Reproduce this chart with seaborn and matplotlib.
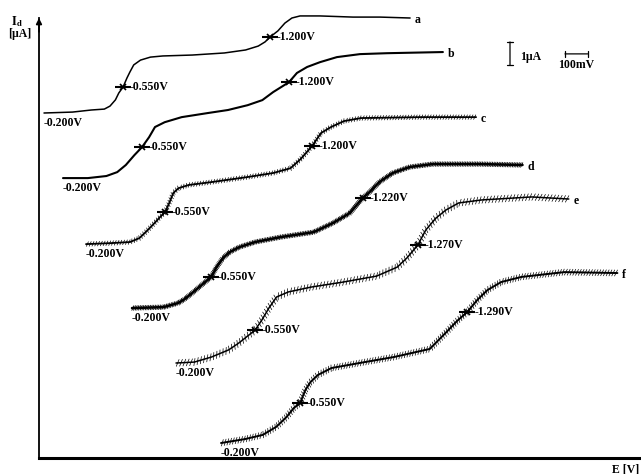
import numpy as np
import pandas as pd
import matplotlib
matplotlib.use("Agg")
import matplotlib.pyplot as plt
from matplotlib import patheffects as pe
import seaborn as sns

# Polarograms a-f: potential E (V) and diffusion current I (uA, from the baseline)
curves = ["a", "b", "c", "d", "e", "f"]

E_a = [-0.200, -0.326, -0.409, -0.467, -0.492, -0.516, -0.531, -0.550, -0.567, -0.580,
       -0.597, -0.627, -0.671, -0.726, -0.856, -0.998, -1.092, -1.148, -1.178, -1.200,
       -1.235, -1.266, -1.297, -1.333, -1.421, -1.567, -1.687, -1.820]
I_a = [0.00, 0.04, 0.13, 0.17, 0.30, 0.57, 0.87, 1.13, 1.52, 1.78,
       2.09, 2.30, 2.43, 2.48, 2.52, 2.61, 2.74, 2.91, 3.09, 3.30,
       3.57, 3.91, 4.13, 4.22, 4.22, 4.17, 4.17, 4.13]

E_b = [-0.200, -0.310, -0.392, -0.440, -0.478, -0.516, -0.550, -0.581, -0.607, -0.650,
       -0.725, -0.842, -0.930, -1.017, -1.082, -1.130, -1.200, -1.235, -1.280, -1.337,
       -1.412, -1.514, -1.634, -1.881]
I_b = [0.00, 0.00, 0.09, 0.26, 0.57, 1.00, 1.35, 1.78, 2.22, 2.43,
       2.65, 2.83, 2.96, 3.17, 3.39, 3.74, 4.17, 4.57, 4.83, 5.04,
       5.26, 5.39, 5.43, 5.48]

E_c = [-0.200, -0.305, -0.395, -0.436, -0.464, -0.495, -0.527, -0.550, -0.568, -0.586,
       -0.609, -0.654, -0.758, -0.911, -1.028, -1.105, -1.150, -1.200, -1.240, -1.284,
       -1.342, -1.417, -1.682, -1.926]
I_c = [0.00, 0.04, 0.09, 0.26, 0.52, 0.83, 1.17, 1.39, 1.78, 2.22,
       2.43, 2.57, 2.70, 2.91, 3.09, 3.30, 3.70, 4.26, 4.83, 5.09,
       5.35, 5.48, 5.52, 5.52]

E_d = [-0.200, -0.340, -0.405, -0.433, -0.466, -0.503, -0.550, -0.572, -0.602, -0.632,
       -0.675, -0.745, -0.861, -1.004, -1.090, -1.164, -1.220, -1.251, -1.295, -1.353,
       -1.428, -1.530, -1.738, -1.928]
I_d = [0.00, 0.04, 0.22, 0.39, 0.65, 0.96, 1.35, 1.74, 2.17, 2.43,
       2.65, 2.87, 3.09, 3.30, 3.70, 4.13, 4.78, 5.04, 5.48, 5.87,
       6.13, 6.26, 6.26, 6.22]

E_e = [-0.200, -0.281, -0.357, -0.433, -0.478, -0.523, -0.550, -0.580, -0.611, -0.645,
       -0.697, -0.797, -0.940, -1.088, -1.179, -1.222, -1.270, -1.305, -1.350, -1.394,
       -1.451, -1.553, -1.774, -1.938]
I_e = [0.00, 0.04, 0.26, 0.57, 0.87, 1.22, 1.43, 1.87, 2.39, 2.87,
       3.09, 3.30, 3.52, 3.78, 4.17, 4.57, 5.13, 5.78, 6.30, 6.65,
       6.96, 7.09, 7.22, 7.13]

E_f = [-0.200, -0.306, -0.384, -0.444, -0.490, -0.522, -0.550, -0.573, -0.596, -0.629,
       -0.689, -0.814, -0.966, -1.124, -1.198, -1.244, -1.290, -1.334, -1.379, -1.440,
       -1.529, -1.719, -1.954]
I_f = [0.00, 0.17, 0.35, 0.70, 1.13, 1.52, 1.74, 2.30, 2.65, 2.96,
       3.26, 3.48, 3.74, 4.09, 4.83, 5.30, 5.70, 6.22, 6.65, 7.00,
       7.22, 7.43, 7.39]

E_start = -0.200
E_half1 = [-0.550, -0.550, -0.550, -0.550, -0.550, -0.550]
E_half2 = [-1.200, -1.200, -1.200, -1.220, -1.270, -1.290]

# stacking of the traces (V to the right, uA upwards)
x_shift = [0.0221, 0.1062, 0.2080, 0.4115, 0.6062, 0.8053]
y_shift = [15.00, 12.17, 9.30, 6.52, 4.13, 0.652]
line_w = {"a": 1.1, "b": 1.5, "c": 1.3, "d": 1.8, "e": 1.1, "f": 1.4}
# recorder-pen texture: (tick spacing pt, tick length rel. to spacing, tick width)
texture = {"a": None, "b": None, "c": (2.0, 0.9, 0.5), "d": (1.2, 1.5, 0.6),
           "e": (2.4, 1.1, 0.5), "f": (2.0, 1.2, 0.5)}

E_all = [E_a, E_b, E_c, E_d, E_e, E_f]
I_all = [I_a, I_b, I_c, I_d, I_e, I_f]

frames = []
for name, E, I, xs, ys in zip(curves, E_all, I_all, x_shift, y_shift):
    E = np.asarray(E)
    I = np.asarray(I)
    frames.append(pd.DataFrame({"curve": name,
                                "x": xs + (E_start - E),
                                "y": ys + I}))
df = pd.concat(frames, ignore_index=True)

sns.set_theme(style="white")
plt.rcParams["font.family"] = ["Liberation Serif", "DejaVu Serif"]
plt.rcParams["mathtext.fontset"] = "stix"

W, H = 641, 474
PX_V, PX_UA = 226.0, 23.0          # pixels per volt / per microampere
fig = plt.figure(figsize=(W / 100, H / 100), dpi=100)
ax = fig.add_axes([39 / W, 16 / H, 602 / W, 458 / H])

sns.lineplot(data=df, x="x", y="y", hue="curve", size="curve", sizes=line_w,
             palette=["black"] * len(curves), estimator=None, sort=False,
             legend=False, ax=ax)

for line, name in zip(ax.lines[:len(curves)], curves):
    tex = texture[name]
    if tex is None:
        continue
    sp, ln, tw = tex
    line.set_path_effects([
        pe.TickedStroke(spacing=sp, angle=65, length=ln, linewidth=tw),
        pe.withTickedStroke(spacing=sp, angle=-115, length=ln, linewidth=tw),
    ])

YTOP = 440 / PX_UA
ax.set_xlim(0, 602 / PX_V)
ax.set_ylim(0, 458 / PX_UA)
ax.set_xticks([])
ax.set_yticks([])
ax.set_xlabel("")
ax.set_ylabel("")
for side in ("top", "right"):
    ax.spines[side].set_visible(False)
ax.spines["left"].set_linewidth(1.3)
ax.spines["left"].set_bounds(0, YTOP)
ax.spines["bottom"].set_linewidth(2.2)
ax.spines["left"].set_color("black")
ax.spines["bottom"].set_color("black")
ax.annotate("", xy=(0, YTOP), xytext=(0, YTOP - 0.6),
            arrowprops=dict(arrowstyle="-|>", lw=1.3, color="black",
                            mutation_scale=8, shrinkA=0, shrinkB=0))

txt = dict(fontsize=8.5, fontweight="bold", color="black")
dxp = 1 / PX_V
dyp = 1 / PX_UA

for name, xs, ys, e1, e2 in zip(curves, x_shift, y_shift, E_half1, E_half2):
    sub = df[df["curve"] == name]
    xv, yv = sub["x"].to_numpy(), sub["y"].to_numpy()
    # starting potential
    ax.text(xv[0], yv[0] - 10 * dyp, f"{E_start:.3f}V", ha="left", va="center", **txt)
    # half-wave potentials
    for eh in (e1, e2):
        xm = xs + (E_start - eh)
        ym = np.interp(xm, xv, yv)
        ax.plot([xm], [ym], marker="_", ms=11, mew=1.5, color="black")
        ax.plot([xm], [ym], marker="x", ms=4, mew=1.2, color="black")
        ax.text(xm + 7 * dxp, ym, f"{eh:.3f}V", ha="left", va="center", **txt)
    # trace letter
    ax.text(xv[-1] + 5 * dxp, yv[-1] - 2 * dyp, name, ha="left", va="center", **txt)

# scale bars
bx, by0 = 471 / PX_V, 17.09
ax.annotate("", xy=(bx, by0 + 1.0), xytext=(bx, by0),
            arrowprops=dict(arrowstyle="|-|", lw=0.9, color="black",
                            mutation_scale=2, shrinkA=0, shrinkB=0))
ax.text(bx + 10 * dxp, by0 + 0.35, "1\u00b5A", ha="left", va="center", **txt)
hx, hy = 526 / PX_V, 17.57
ax.annotate("", xy=(hx + 0.100, hy), xytext=(hx, hy),
            arrowprops=dict(arrowstyle="|-|", lw=0.9, color="black",
                            mutation_scale=2, shrinkA=0, shrinkB=0))
ax.text(hx + 0.050, hy - 11 * dyp, "100mV", ha="center", va="center", **txt)

# axis titles
fig.text(17 / W, 1 - 22 / H, r"$\mathbf{I}_{\mathbf{d}}$", ha="center", va="center",
         fontsize=9, color="black")
fig.text(20 / W, 1 - 34 / H, "[\u00b5A]", ha="center", va="center", **txt)
fig.text(626 / W, 1 - 469 / H, "E [V]", ha="center", va="center", **txt)

fig.savefig("out.png", dpi=100, facecolor="white")
